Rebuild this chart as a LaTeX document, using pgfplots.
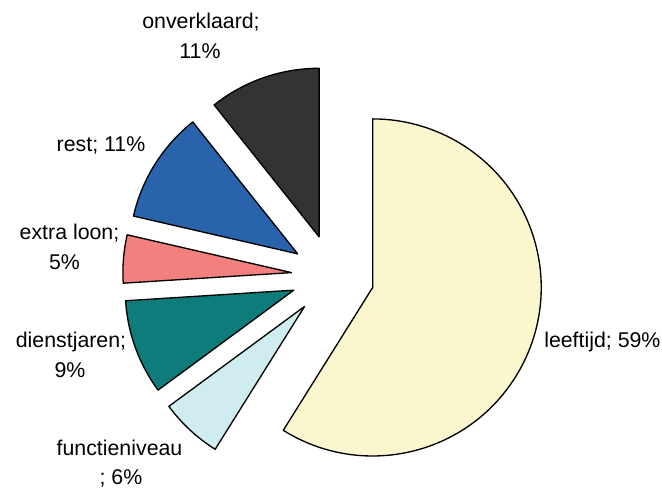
\documentclass[border=0pt]{standalone}
\usepackage{pgfplots}
\usepackage{pgfplotstable}
\usepackage{fontspec}
\setmainfont{Liberation Sans}
\pgfplotsset{compat=1.18}

\definecolor{cLeef}{HTML}{FAF7CE}
\definecolor{cFunc}{HTML}{CFECF0}
\definecolor{cDienst}{HTML}{0E7C7A}
\definecolor{cExtra}{HTML}{F3807F}
\definecolor{cRest}{HTML}{2963AC}
\definecolor{cOnv}{HTML}{333333}

% share in percent, clockwise from 12 o'clock
\pgfplotstableread[col sep=comma]{
label,value,color
leeftijd,58.9,cLeef
functieniveau,6.0,cFunc
dienstjaren,9.1,cDienst
extra loon,4.6,cExtra
rest,10.7,cRest
onverklaard,10.7,cOnv
}\piedata

\begin{document}
\begin{tikzpicture}[font=\fontsize{16pt}{23pt}\selectfont]
\begin{axis}[
  hide axis, scale only axis,
  width=496.5pt, height=366pt,
  xmin=0, xmax=662, ymin=0, ymax=488,
  clip=false,
]
% centre of the pie (axis units), explode offset, radius
\def\cx{332.8}\def\cy{212}\def\explode{41.5}\def\R{126.4pt}
\xdef\cur{90}
\pgfplotstablegetrowsof{\piedata}
\pgfmathtruncatemacro\last{\pgfplotsretval-1}
\foreach \i in {0,...,\last}{
  \pgfplotstablegetelem{\i}{value}\of\piedata
  \let\val\pgfplotsretval
  \pgfplotstablegetelem{\i}{color}\of\piedata
  \let\col\pgfplotsretval
  \pgfmathsetmacro\angB{\cur}
  \pgfmathsetmacro\angA{\cur-3.6*\val}
  \pgfmathsetmacro\vx{\cx+\explode*cos((\angA+\angB)/2)}
  \pgfmathsetmacro\vy{\cy+\explode*sin((\angA+\angB)/2)}
  \xdef\cur{\angA}
  \edef\temp{\noexpand\filldraw[fill=\col, draw=black, line width=1pt, line join=round]
    (axis cs:\vx,\vy) -- ++(\angA:\R) arc[start angle=\angA, end angle=\angB, radius=\R] -- cycle;}
  \temp
}

\node[anchor=base] at (axis cs:201,459.7) {onverklaard;};
\node[anchor=base] at (axis cs:200,429.7) {11\%};
\node[anchor=base] at (axis cs:101,336.3) {rest; 11\%};
\node[anchor=base] at (axis cs:69.5,248.7) {extra loon;};
\node[anchor=base] at (axis cs:64.5,218) {5\%};
\node[anchor=base] at (axis cs:71,140) {dienstjaren;};
\node[anchor=base] at (axis cs:70,110.7) {9\%};
\node[anchor=base] at (axis cs:119.5,32.3) {functieniveau};
\node[anchor=base] at (axis cs:121,3.5) {; 6\%};
\node[anchor=base west, inner sep=0pt] at (axis cs:544,140.7) {leeftijd; 59\%};

\coordinate (ll) at (axis cs:0,0);
\coordinate (ur) at (axis cs:662,488);
\end{axis}
\pgfresetboundingbox
\path (ll) rectangle (ur);
\end{tikzpicture}
\end{document}
